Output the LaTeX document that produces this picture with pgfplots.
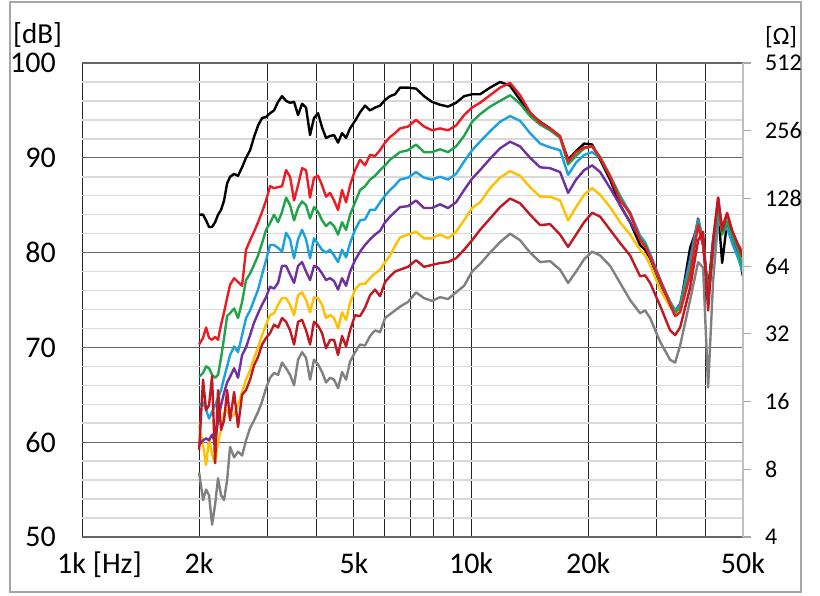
\documentclass[border=0pt]{standalone}
\usepackage{fontspec}
\setmainfont{Carlito}
\usepackage{pgfplots}
\usepackage{pgfplotstable}
\pgfplotsset{compat=1.18}
\definecolor{cRed}{RGB}{237,28,36}
\definecolor{cGreen}{RGB}{33,163,74}
\definecolor{cCyan}{RGB}{27,161,226}
\definecolor{cPurple}{RGB}{112,48,160}
\definecolor{cYellow}{RGB}{255,192,0}
\definecolor{cDarkRed}{RGB}{192,25,35}
\definecolor{cGray}{RGB}{128,128,128}

\pgfplotstableread{
f bk rd gn cy pu ye dr gy
2000 84.0 70.3 66.9 63.9 59.7 61.8 59.2 56.8
2047 84.0 71.0 67.3 64.2 60.2 59.7 66.6 53.9
2084 83.4 72.1 68.0 63.4 60.4 57.6 63.4 55.0
2121 82.7 71.0 67.8 62.5 60.2 60.4 63.9 54.4
2159 82.7 70.8 67.1 63.2 60.8 58.7 67.0 51.3
2198 83.2 71.1 66.8 63.9 59.9 57.8 57.8 53.4
2237 84.0 70.8 67.1 64.7 62.3 60.0 65.5 56.2
2277 84.5 72.4 68.9 65.5 63.9 61.3 61.3 54.4
2318 85.5 73.7 71.0 66.8 65.2 63.1 62.3 53.9
2360 87.3 75.2 73.3 68.0 66.3 63.4 65.5 56.0
2402 88.0 76.6 73.6 69.2 66.9 62.6 62.3 59.5
2460 88.3 77.3 74.1 70.1 67.8 62.9 65.3 58.4
2518 88.1 76.9 73.1 69.5 66.8 63.9 61.6 59.0
2579 89.0 76.5 74.8 71.3 69.2 65.3 65.0 58.6
2640 90.0 80.3 77.1 73.1 70.0 66.6 65.5 60.2
2704 90.8 81.3 77.8 73.9 71.3 67.6 66.6 61.5
2768 92.2 82.2 78.7 75.0 72.6 68.9 68.1 62.3
2835 93.4 83.2 79.7 76.1 73.6 70.0 69.0 63.2
2903 94.2 84.3 81.0 77.7 74.5 71.3 70.3 64.3
2972 94.3 85.5 82.4 79.2 75.3 72.4 71.0 65.7
3043 94.7 87.0 83.1 80.8 76.4 73.4 71.5 66.8
3116 95.0 86.8 84.0 80.8 76.2 73.6 72.4 67.3
3191 95.9 86.9 83.2 80.5 76.8 74.5 72.1 67.1
3267 96.5 87.0 84.3 80.1 78.6 75.2 73.1 68.4
3346 96.0 88.7 85.8 82.1 78.6 75.2 72.7 67.8
3426 95.8 88.0 85.0 81.4 77.7 74.5 71.8 67.1
3508 95.9 85.5 83.4 79.4 76.8 73.4 70.3 66.0
3592 94.5 87.1 84.7 81.4 78.6 75.5 72.7 68.7
3678 95.7 88.9 85.4 82.4 79.0 75.8 72.9 69.5
3766 95.3 88.7 85.0 81.4 78.0 75.0 71.8 68.9
3856 92.4 85.8 83.6 79.4 77.1 73.7 70.3 66.6
3948 94.2 87.9 84.8 81.5 78.6 75.3 72.7 68.7
4043 94.7 88.1 84.3 80.9 78.4 75.2 72.3 68.2
4140 93.2 87.1 83.4 80.3 77.8 74.5 71.5 67.4
4239 92.1 85.9 82.8 80.0 77.1 73.1 69.9 66.3
4341 92.3 86.3 83.2 80.3 77.3 73.4 70.8 66.8
4444 92.4 85.5 82.8 79.7 77.0 73.1 70.8 66.6
4551 91.6 84.5 81.9 79.0 76.1 72.0 69.2 65.7
4660 92.6 86.6 83.2 80.3 77.3 73.7 71.2 67.4
4772 92.1 85.3 82.4 79.5 76.5 72.9 70.1 66.6
4886 93.1 87.1 84.0 81.0 78.0 74.7 71.8 68.5
5033 93.9 88.7 85.3 82.4 79.2 76.1 73.4 69.5
5184 94.8 89.8 86.6 83.4 80.1 76.7 73.3 70.3
5339 95.5 89.2 87.0 83.5 80.8 76.7 74.2 70.2
5500 95.0 90.3 87.7 84.5 81.4 77.3 75.5 71.2
5665 95.3 90.2 88.1 84.5 81.9 77.8 76.1 71.8
5835 95.5 90.8 88.7 85.3 82.3 78.2 75.4 71.6
6010 96.1 91.6 89.2 86.0 83.2 79.0 76.9 73.1
6191 96.5 92.2 89.8 86.6 83.8 79.7 77.5 73.5
6377 96.7 92.6 90.2 87.1 84.3 80.7 78.0 73.9
6568 97.4 93.1 90.6 87.7 84.8 81.6 78.2 74.3
6887 97.4 93.3 90.8 87.9 84.9 81.9 78.5 74.8
7220 97.3 94.0 91.4 88.5 85.5 82.2 79.2 75.8
7570 96.5 93.3 90.6 87.9 84.7 81.5 78.5 75.2
7937 95.9 92.9 90.6 87.7 84.7 81.5 78.7 74.9
8321 95.6 93.1 90.9 88.0 85.1 81.9 78.9 75.3
8724 95.4 92.9 90.6 87.7 84.7 81.5 79.0 75.1
9147 95.8 93.4 91.2 88.3 85.3 82.2 79.4 75.8
9594 96.5 94.5 92.3 89.6 86.6 83.4 80.3 76.5
10059 96.7 95.3 93.8 90.8 87.8 84.7 81.3 78.0
10547 96.7 95.8 94.6 91.7 88.7 85.3 82.4 78.8
11190 97.4 96.6 95.4 92.8 89.9 86.8 83.6 80.0
11872 98.0 97.4 96.0 93.8 91.0 87.9 84.8 81.1
12596 97.6 97.9 96.6 94.4 91.7 88.6 85.7 82.0
13365 96.1 96.6 95.7 93.9 91.2 88.1 85.2 81.3
14180 94.7 94.8 94.4 92.6 90.0 86.9 84.0 80.0
15045 93.8 93.7 93.5 91.5 89.0 85.9 82.9 79.0
15962 93.1 93.1 92.9 91.1 88.9 85.9 83.0 79.1
16935 92.2 92.3 92.1 90.8 88.5 85.5 81.9 78.2
17758 89.8 89.6 89.3 88.2 86.3 83.4 80.6 76.8
18619 90.7 90.6 90.2 89.5 87.7 84.8 81.9 78.0
19521 91.5 91.1 91.0 90.3 88.7 86.1 83.2 79.3
20470 91.4 91.2 91.2 90.6 89.2 86.8 84.2 80.1
21462 89.8 90.0 90.1 90.0 88.5 86.1 83.8 79.7
22770 87.7 88.0 88.1 88.1 86.8 84.8 82.4 78.6
24157 85.0 85.5 85.8 86.0 85.0 83.2 81.0 76.8
25630 83.2 84.2 84.0 84.2 83.2 81.9 79.7 75.0
27193 80.8 81.3 81.5 81.8 81.5 80.3 77.5 73.6
28010 80.3 80.7 80.9 81.1 80.9 79.7 77.6 73.9
28852 79.4 79.6 79.6 79.9 79.8 78.7 76.8 73.1
30611 76.8 77.1 76.9 77.1 77.1 76.1 74.4 70.6
32477 74.5 74.5 74.7 74.8 74.8 74.3 71.8 68.7
33456 73.6 73.3 73.7 73.9 73.9 73.6 71.3 68.4
34460 74.2 73.7 74.2 74.4 74.6 74.0 72.1 70.2
36561 80.5 77.6 78.4 79.0 79.4 78.8 76.3 75.0
38338 82.9 82.9 83.2 83.4 83.6 82.9 81.3 79.0
39484 80.8 80.8 81.3 81.5 81.3 81.1 82.2 78.4
40671 76.1 75.0 75.5 75.5 75.0 75.0 73.9 65.8
41898 81.3 81.3 80.8 80.3 80.3 80.3 81.3 77.1
43157 84.5 85.8 85.0 84.5 84.2 84.5 85.8 83.4
44190 78.9 82.6 81.9 82.2 82.6 82.2 82.3 82.6
45509 83.2 84.2 83.3 82.6 82.9 83.2 84.1 83.0
46884 81.3 82.3 81.8 81.0 81.3 81.8 82.3 81.8
48578 80.1 80.8 80.3 79.4 79.7 80.5 80.8 80.8
50000 77.5 79.7 78.2 77.9 78.4 79.4 79.4 80.1
}\data

\begin{document}
\begin{tikzpicture}[x=1pt,y=1pt]
\useasboundingbox (0,0) rectangle (820,595);
\draw[black!35, line width=1.2pt] (10,3) rectangle (801,593);
\begin{axis}[
  at={(82pt,58pt)}, anchor=south west,
  scale only axis, width=661pt, height=474pt,
  xmode=log, xmin=1000, xmax=50000, ymin=50, ymax=100,
  axis line style={draw=none},
  xtick={1000,2000,5000,10000,20000},
  xticklabels={,2k,5k,10k,20k},
  extra x ticks={50000}, extra x tick labels={50k},
  extra x tick style={grid=none},
  minor xtick={3000,4000,6000,7000,8000,9000,30000,40000},
  ytick={50,60,70,80,90,100},
  yticklabels={50,60,70,80,90,100},
  minor ytick={52,54,56,58,62,64,66,68,72,74,76,78,82,84,86,88,92,94,96,98},
  xmajorgrids, xminorgrids, ymajorgrids, yminorgrids,
  major x grid style={black!85, line width=1pt},
  minor x grid style={black!85, line width=1pt},
  major y grid style={black!60, line width=1.3pt},
  minor y grid style={black!15, line width=1.5pt},
  major tick length=0pt, minor tick length=0pt,
  /pgf/number format/assume math mode=true,
  ticklabel style={font=\fontsize{30}{30}\selectfont, inner sep=0pt},
  xticklabel style={anchor=base, yshift=-36pt},
  yticklabel style={anchor=east, xshift=-26pt},
  every axis plot/.append style={line width=2.4pt, line join=round, no markers},
]
\addplot[black] table[x=f,y=bk] {\data};
\addplot[cGray] table[x=f,y=gy] {\data};
\addplot[cYellow] table[x=f,y=ye] {\data};
\addplot[cPurple] table[x=f,y=pu] {\data};
\addplot[cCyan] table[x=f,y=cy] {\data};
\addplot[cGreen] table[x=f,y=gn] {\data};
\addplot[cRed] table[x=f,y=rd] {\data};
\addplot[cDarkRed] table[x=f,y=dr] {\data};
\end{axis}
\begin{axis}[
  at={(82pt,58pt)}, anchor=south west,
  scale only axis, width=661pt, height=474pt,
  xmode=log, xmin=1000, xmax=50000,
  ymode=log, log basis y=2, ymin=4, ymax=512,
  axis x line=none, axis y line*=right,
  ytick={4,8,16,32,64,128,256,512},
  yticklabels={4,8,16,32,64,128,256,512},
  axis line style={black!25, line width=1.2pt},
  y tick style={black!35, line width=1.2pt},
  major tick length=8pt, tick align=outside,
  /pgf/number format/assume math mode=true,
  yticklabel style={font=\fontsize{24}{24}\selectfont, anchor=west, inner sep=0pt, xshift=14pt},
]
\addplot[draw=none, forget plot] coordinates {(2000,8)};
\end{axis}
\node[anchor=west, inner sep=0pt, font=\fontsize{29}{29}\selectfont] at (13,560) {[dB]};
\node[anchor=west, inner sep=0pt, font=\fontsize{25}{25}\selectfont] at (765,558) {[Ω]};
\node[anchor=base west, inner sep=0pt, font=\fontsize{30}{30}\selectfont] at (57,22) {1k [Hz]};
\end{tikzpicture}
\end{document}
